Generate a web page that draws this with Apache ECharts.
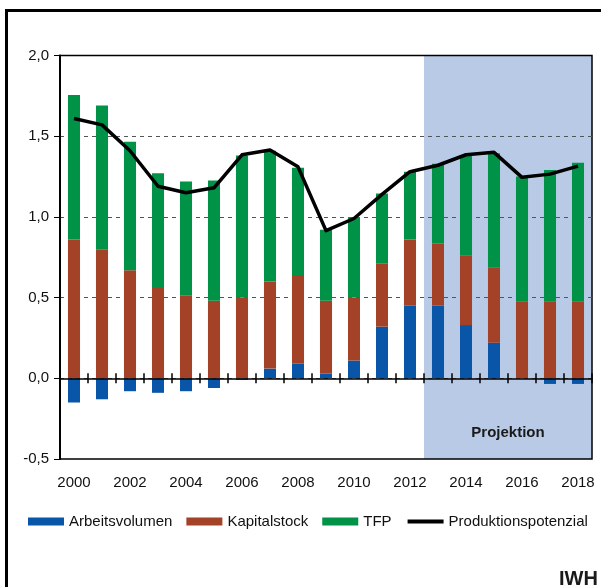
<!DOCTYPE html>
<html>
<head>
<meta charset="utf-8">
<script src="https://cdn.jsdelivr.net/npm/echarts@6/dist/echarts.min.js"></script>
<style>
  html, body { margin: 0; padding: 0; background: #fff; }
  #chart { width: 601px; height: 587px; }
</style>
</head>
<body>
<div id="chart"></div>
<script>
// Jahre
const years = ['2000', '2001', '2002', '2003', '2004', '2005', '2006', '2007', '2008', '2009',
  '2010', '2011', '2012', '2013', '2014', '2015', '2016', '2017', '2018']

// Wachstumsbeiträge (Prozentpunkte)
const arbeitsvolumen = [-0.15, -0.13, -0.08, -0.09, -0.08, -0.06, -0.01, 0.06, 0.09, 0.03,
  0.11, 0.32, 0.45, 0.45, 0.33, 0.22, 0, -0.035, -0.035]
const kapitalstock = [0.86, 0.80, 0.67, 0.56, 0.515, 0.48, 0.50, 0.54, 0.55, 0.45,
  0.39, 0.39, 0.41, 0.385, 0.43, 0.465, 0.475, 0.475, 0.475]
const tfp = [0.895, 0.89, 0.795, 0.71, 0.705, 0.745, 0.88, 0.81, 0.665, 0.44,
  0.50, 0.435, 0.42, 0.495, 0.62, 0.71, 0.775, 0.815, 0.86]
const produktionspotenzial = [1.61, 1.57, 1.41, 1.19, 1.15, 1.18, 1.385, 1.415, 1.31, 0.915,
  0.99, 1.14, 1.28, 1.32, 1.385, 1.40, 1.245, 1.265, 1.315]

// y-Achse
const yMin = -0.5
const yMax = 2.0
const yStep = 0.5

const projectionStart = '2013'
const projectionLabel = 'Projektion'

const colors = {
  arbeit: '#0956A8',
  kapital: '#A34226',
  tfp: '#009247',
  line: '#000000',
  shade: '#B9CAE6'
}

const font = 'Liberation Sans'
const projIdx = years.indexOf(projectionStart)

const chart = echarts.init(document.getElementById('chart'), null, { renderer: 'canvas' })

const barSeries = (name, data, color) => ({
  name,
  type: 'bar',
  stack: 'beitrag',
  data,
  barWidth: '43%',
  itemStyle: { color },
  z: 2
})

// category axis on the zero line (ticks only)
const zeroAxis = (position, showLine) => ({
  type: 'category',
  data: years,
  position,
  z: 3,
  axisLine: { show: showLine, onZero: true, onZeroAxisIndex: 0, lineStyle: { color: '#000', width: 1.5 } },
  axisTick: { show: true, interval: 0, length: 5, lineStyle: { color: '#000', width: 1.5 } },
  axisLabel: { show: false },
  splitLine: { show: false }
})

const option = {
  animation: false,
  textStyle: { fontFamily: font },
  grid: {
    left: 60, right: 9, top: 55.5, bottom: 128,
    show: true, borderColor: '#000', borderWidth: 1.5, z: 1.5
  },
  legend: {
    left: 28,
    top: 514,
    padding: 0,
    itemWidth: 36,
    itemHeight: 8,
    itemGap: 14,
    textStyle: { fontFamily: font, fontSize: 15, color: '#111' },
    data: [
      { name: 'Arbeitsvolumen', icon: 'rect' },
      { name: 'Kapitalstock', icon: 'rect' },
      { name: 'TFP', icon: 'rect' },
      {
        name: 'Produktionspotenzial',
        itemStyle: { opacity: 0 },
        lineStyle: { color: '#000', width: 4 }
      }
    ]
  },
  xAxis: [
    {
      type: 'category',
      data: years,
      position: 'bottom',
      axisLine: { show: false, onZero: false },
      axisTick: { show: false },
      axisLabel: { interval: 1, margin: 16, fontSize: 15, color: '#111', fontFamily: font },
      splitLine: { show: false }
    },
    zeroAxis('bottom', true),
    zeroAxis('top', false),
    // hidden helper axis for the projection band
    { type: 'value', min: -0.5, max: years.length - 0.5, show: false }
  ],
  yAxis: {
    type: 'value',
    min: yMin,
    max: yMax,
    interval: yStep,
    z: 1.5,
    axisLine: { show: true, onZero: false, lineStyle: { color: '#000', width: 2 } },
    axisTick: { show: true, length: 6, lineStyle: { color: '#000', width: 1 } },
    axisLabel: {
      margin: 11,
      fontSize: 15,
      color: '#111',
      fontFamily: font,
      formatter: v => v.toFixed(1).replace('.', ',')
    },
    splitLine: {
      show: true,
      showMinLine: false,
      showMaxLine: false,
      lineStyle: { color: '#555', type: [4, 4], width: 1 }
    }
  },
  series: [
    barSeries('Arbeitsvolumen', arbeitsvolumen, colors.arbeit),
    barSeries('Kapitalstock', kapitalstock, colors.kapital),
    barSeries('TFP', tfp, colors.tfp),
    {
      name: 'Produktionspotenzial',
      type: 'line',
      data: produktionspotenzial,
      symbol: 'none',
      lineStyle: { color: colors.line, width: 3.5, join: 'round' },
      itemStyle: { color: colors.line },
      z: 4
    },
    {
      name: 'shade',
      type: 'line',
      xAxisIndex: 3,
      data: [],
      markArea: {
        silent: true,
        z: 1,
        itemStyle: { color: colors.shade },
        label: {
          show: true,
          position: 'insideBottom',
          distance: 19,
          fontFamily: font,
          fontSize: 15,
          fontWeight: 'bold',
          color: '#1a1a1a'
        },
        data: [[
          { name: projectionLabel, xAxis: projIdx - 0.5 },
          { xAxis: years.length - 0.5 }
        ]]
      }
    }
  ],
  graphic: [
    {
      type: 'rect',
      silent: true,
      z: 10,
      shape: { x: 6.5, y: 10.5, width: 700, height: 700 },
      style: { fill: 'none', stroke: '#000', lineWidth: 3 }
    },
    {
      type: 'text',
      left: 559,
      top: 569,
      z: 10,
      style: { text: 'IWH', font: 'bold 20px "Liberation Sans"', fill: '#1a1a1a' }
    }
  ]
}

chart.setOption(option)
window.addEventListener('resize', () => chart.resize())
</script>
</body>
</html>
